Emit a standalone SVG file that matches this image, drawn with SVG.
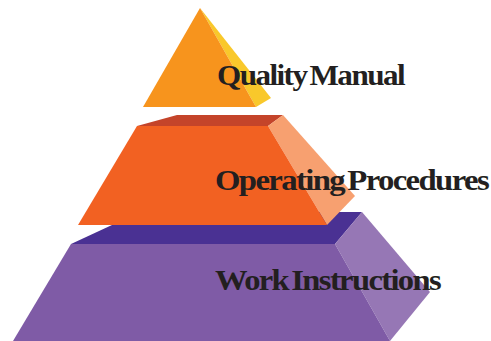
<svg xmlns="http://www.w3.org/2000/svg" width="491" height="341" viewBox="0 0 491 341">
<style>
.lbl{font-family:"Liberation Serif","Times New Roman",serif;font-weight:bold;font-size:30px;fill:#231F20;letter-spacing:-1.5px;word-spacing:-3px}
</style>
<rect width="491" height="341" fill="#FFFFFF"/>
<g id="tier-work-instructions">
<polygon points="71,244 140,212 362,212 335,244" fill="#4A3193"/>
<polygon points="335,244 362,212 430,292 390,341" fill="#9677B5"/>
<polygon points="71,244 335,244 390,341 13,341" fill="#7F5BA6"/>
</g>
<g id="tier-operating-procedures">
<polygon points="137,126 177,115 283,115 268,126" fill="#C4442A"/>
<polygon points="268,126 283,115 355,196 327,225" fill="#F7A070"/>
<polygon points="137,126 268,126 327,225 78,225" fill="#F26122"/>
</g>
<g id="tier-quality-manual">
<polygon points="200,8 271,98 256,107" fill="#F9C82B"/>
<polygon points="200,8 256,107 143,107" fill="#F7941D"/>
</g>
<g id="labels">
<text class="lbl" x="217" y="85" textLength="187" lengthAdjust="spacingAndGlyphs">Quality Manual</text>
<text class="lbl" x="215" y="190" textLength="273" lengthAdjust="spacingAndGlyphs">Operating Procedures</text>
<text class="lbl" x="215" y="290" textLength="225" lengthAdjust="spacingAndGlyphs">Work Instructions</text>
</g>
<g id="connectors"></g>
</svg>
